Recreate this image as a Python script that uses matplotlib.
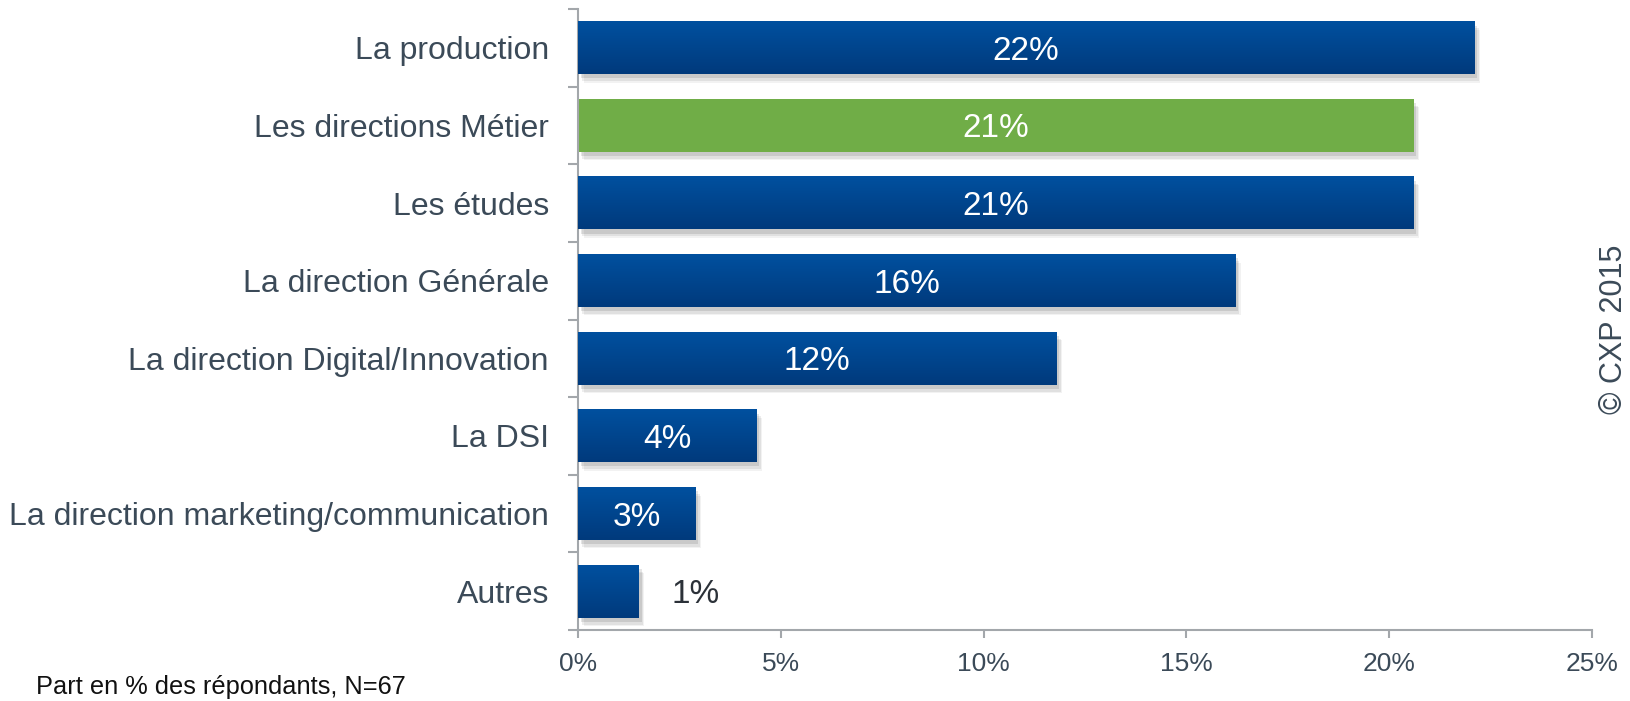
import numpy as np
from matplotlib import pyplot as plt
from matplotlib import patheffects
from matplotlib.colors import LinearSegmentedColormap

plt.rcParams['font.family'] = ['Liberation Sans', 'DejaVu Sans']

categories = ['La production', 'Les directions Métier', 'Les études',
              'La direction Générale', 'La direction Digital/Innovation',
              'La DSI', 'La direction marketing/communication', 'Autres']
values = [22.1, 20.6, 20.6, 16.2, 11.8, 4.4, 2.9, 1.5]
labels = ['22%', '21%', '21%', '16%', '12%', '4%', '3%', '1%']
highlight = 'Les directions Métier'
xticks = [0, 5, 10, 15, 20, 25]

text_color = '#3b4a58'
axis_color = '#a3a7ab'
blue_grad = LinearSegmentedColormap.from_list('bluegrad', ['#003a7c', '#00509f'])

fig = plt.figure(figsize=(16.31, 7.01), dpi=100)
ax = fig.add_axes([578 / 1631, 1 - 630 / 701, (1592 - 578) / 1631, (630 - 9) / 701])

n = len(categories)
ypos = np.arange(n)[::-1]
height = 0.68
# soft drop shadow, a few stacked offsets
shadow = [patheffects.SimplePatchShadow(offset=(4, -6), shadow_rgbFace='#000000', alpha=0.05),
          patheffects.SimplePatchShadow(offset=(3, -5), shadow_rgbFace='#000000', alpha=0.07),
          patheffects.SimplePatchShadow(offset=(2, -3), shadow_rgbFace='#000000', alpha=0.10),
          patheffects.Normal()]

gradient = np.linspace(0, 1, 64).reshape(-1, 1)
for cat, v, y, lab in zip(categories, values, ypos, labels):
    is_hl = cat == highlight
    bar = ax.barh(y, v, height=height, color='#70ad47' if is_hl else '#00479a',
                  zorder=2)[0]
    bar.set_path_effects(shadow)
    if not is_hl:
        ax.imshow(gradient, extent=[0, v, y - height / 2, y + height / 2],
                  origin='lower', aspect='auto', cmap=blue_grad, zorder=3)
    if v > 2:
        ax.text(v / 2, y, lab, ha='center', va='center_baseline', color='white',
                fontsize=24, zorder=4)
    else:
        ax.text(v + 1.4, y, lab, ha='center', va='center_baseline', color='#2b3138',
                fontsize=24, zorder=4)

ax.set_xlim(0, 25)
ax.set_ylim(-0.5, n - 0.5)
ax.set_xticks(xticks)
ax.set_xticklabels(['{}%'.format(t) for t in xticks])
ax.set_yticks(ypos)
ax.set_yticklabels(categories)
ax.set_yticks(np.arange(n + 1) - 0.5, minor=True)

ax.tick_params(axis='y', which='major', length=0, pad=21, labelsize=23,
               labelcolor=text_color)
ax.tick_params(axis='y', which='minor', length=7, width=1.5, color=axis_color)
ax.tick_params(axis='x', length=6, width=1.5, color=axis_color, pad=10,
               labelsize=19, labelcolor=text_color)

for side in ['top', 'right']:
    ax.spines[side].set_visible(False)
for side in ['left', 'bottom']:
    ax.spines[side].set_color(axis_color)
    ax.spines[side].set_linewidth(1.5)

fig.text(36 / 1631, 1 - 687 / 701, 'Part en % des répondants, N=67',
         fontsize=18.3, color='#111111', va='center', ha='left')
fig.text(1614 / 1631, 1 - 329 / 701, '© CXP 2015', rotation=90,
         fontsize=22, color=text_color, va='center', ha='center')

plt.savefig('out.png', dpi=100)
